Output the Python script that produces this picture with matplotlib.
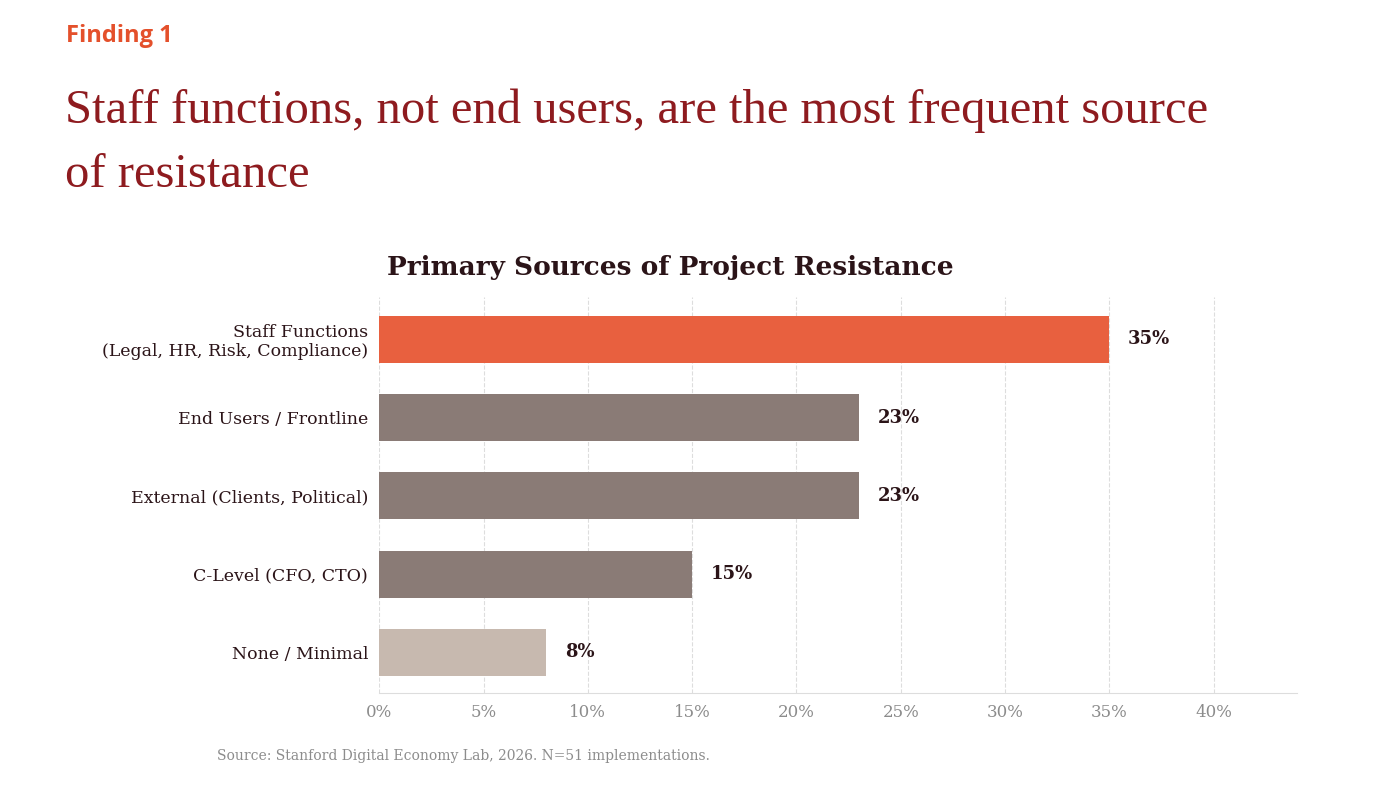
import matplotlib
matplotlib.use('Agg')
import matplotlib.pyplot as plt

# data
categories = ['Staff Functions\n(Legal, HR, Risk, Compliance)', 'End Users / Frontline',
              'External (Clients, Political)', 'C-Level (CFO, CTO)', 'None / Minimal']
values = [35, 23, 23, 15, 8]
bar_colors = ['#E8603F', '#8A7B76', '#8A7B76', '#8A7B76', '#C7B9AF']
xticks = [0, 5, 10, 15, 20, 25, 30, 35, 40]

DARK = '#2B1418'

fig = plt.figure(figsize=(13.74, 7.94), dpi=100, facecolor='white')

# slide header
fig.text(0.048, 0.955, 'Finding 1', fontsize=17, fontweight='bold', color='#E4502B',
         family=['Open Sans', 'DejaVu Sans'], va='center')
fig.text(0.047, 0.86, 'Staff functions, not end users, are the most frequent source',
         fontsize=35, color='#8E1B1F', family=['Liberation Serif', 'DejaVu Serif'], va='center')
fig.text(0.047, 0.78, 'of resistance', fontsize=35, color='#8E1B1F',
         family=['Liberation Serif', 'DejaVu Serif'], va='center')

ax = fig.add_axes([0.276, 0.127, 0.668, 0.499])
y = range(len(categories))
ax.barh(y, values, color=bar_colors, height=0.6, zorder=3)
for i, v in enumerate(values):
    ax.text(v + 0.9, i, f'{v}%', va='center', ha='left', fontsize=13,
            fontweight='bold', color=DARK, family='DejaVu Serif')

ax.set_xlim(0, 44)
ax.set_ylim(4.52, -0.54)
ax.set_xticks(xticks)
ax.set_xticklabels([f'{t}%' for t in xticks], fontsize=12, color='#8C8C8C', family='DejaVu Serif')
ax.set_yticks(list(y))
ax.set_yticklabels(categories, fontsize=12.5, color=DARK, family='DejaVu Serif', linespacing=1.1)
ax.tick_params(axis='both', length=0, pad=8)
ax.grid(axis='x', linestyle='--', color='#DDDDDD', linewidth=0.8, zorder=0)
for s in ['top', 'right', 'left']:
    ax.spines[s].set_visible(False)
ax.spines['bottom'].set_color('#DDDDDD')

fig.text(0.488, 0.663, 'Primary Sources of Project Resistance', fontsize=19, fontweight='bold',
         color=DARK, family='DejaVu Serif', ha='center', va='center')
fig.text(0.158, 0.048, 'Source: Stanford Digital Economy Lab, 2026. N=51 implementations.',
         fontsize=10, color='#8C8C8C', family='DejaVu Serif', va='center')

fig.savefig('out.png', dpi=100, facecolor='white')
